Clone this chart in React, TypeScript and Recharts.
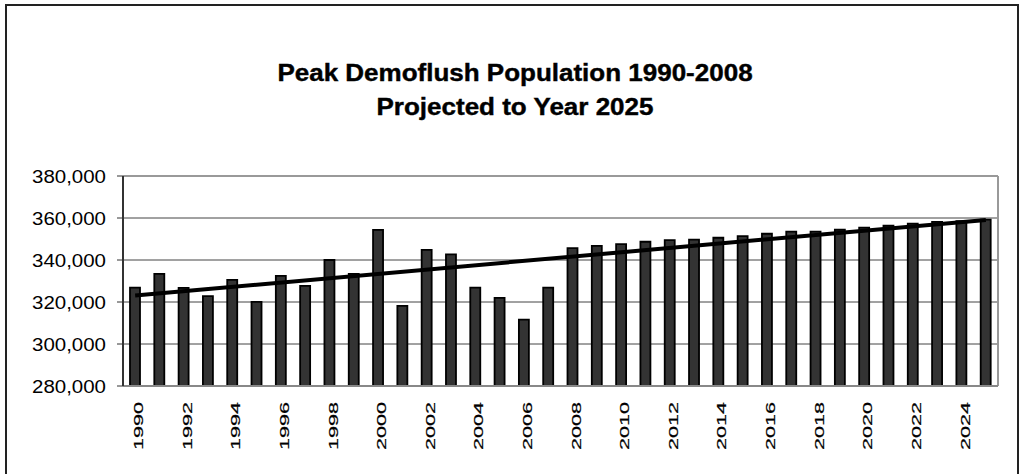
import React from "react";
import {
  ComposedChart,
  Bar,
  Line,
  XAxis,
  YAxis,
  CartesianGrid,
  ReferenceLine,
} from "recharts";

const years: string[] = [
  "1990", "1991", "1992", "1993", "1994", "1995", "1996", "1997", "1998", "1999",
  "2000", "2001", "2002", "2003", "2004", "2005", "2006", "2007", "2008", "2009",
  "2010", "2011", "2012", "2013", "2014", "2015", "2016", "2017", "2018", "2019",
  "2020", "2021", "2022", "2023", "2024", "2025",
];

const population: number[] = [
  326800, 333400, 326700, 322800, 330500, 320100, 332400, 327700, 340000, 333400,
  354300, 318200, 344800, 342700, 326800, 322000, 311600, 326800, 345700, 346700,
  347600, 348700, 349500, 349700, 350600, 351400, 352500, 353500, 353500, 354400,
  355400, 356300, 357300, 358200, 358500, 359200,
];

// linear trend line endpoints (1990 and 2025)
const trendStart = 323100;
const trendEnd = 359100;

const yTicks: number[] = [280000, 300000, 320000, 340000, 360000, 380000];

const titleLines: string[] = [
  "Peak Demoflush Population 1990-2008",
  "Projected to Year 2025",
];

const data = years.map((year, i) => ({
  year,
  population: population[i],
  trend: i === 0 ? trendStart : i === years.length - 1 ? trendEnd : null,
}));

const FONT = "'Liberation Sans', Arial, sans-serif";

const XTick = (props: any) => {
  const { x, y, payload } = props;
  return (
    <text
      transform={`translate(${x + 8},${y + 64}) rotate(-90)`}
      x={0}
      y={0}
      textAnchor="start"
      fontFamily={FONT}
      fontSize={12.5}
      fill="#000"
      stroke="#000"
      strokeWidth={0.2}
      textLength={48}
      lengthAdjust="spacingAndGlyphs"
    >
      {payload.value}
    </text>
  );
};

const YTick = (props: any) => {
  const { x, y, payload } = props;
  const label = Number(payload.value).toLocaleString("en-US");
  return (
    <text
      x={x}
      y={y}
      dy={6.5}
      textAnchor="end"
      fontFamily={FONT}
      fontSize={18}
      fill="#000"
      textLength={74}
      lengthAdjust="spacingAndGlyphs"
    >
      {label}
    </text>
  );
};

export default function App() {
  return (
    <div
      style={{
        position: "fixed",
        left: 0,
        top: 0,
        width: 1021,
        height: 474,
        overflow: "hidden",
        background: "#fff",
      }}
    >
      <div
        style={{
          position: "absolute",
          left: 5,
          top: 4,
          width: 1010,
          height: 500,
          border: "2px solid #222",
          borderBottom: "none",
        }}
      />
      <div
        style={{
          position: "absolute",
          left: 0,
          top: 56,
          width: 1030,
          textAlign: "center",
          fontFamily: FONT,
          fontWeight: "bold",
          fontSize: 23,
          lineHeight: "34px",
          color: "#000",
          WebkitTextStroke: "0.4px #000",
          transform: "scaleX(1.13)",
          transformOrigin: "515px 0",
        }}
      >
        {titleLines.map((t) => (
          <div key={t}>{t}</div>
        ))}
      </div>
      <div style={{ position: "absolute", left: 0, top: 0 }}>
        <ComposedChart
          width={1021}
          height={474}
          data={data}
          margin={{ top: 176, right: 23, bottom: 18, left: 0 }}
        >
          <CartesianGrid vertical={false} stroke="#444" strokeWidth={1} />
          <XAxis
            dataKey="year"
            interval={1}
            tick={<XTick />}
            tickLine={false}
            tickSize={0}
            tickMargin={0}
            height={70}
            axisLine={{ stroke: "#888", strokeWidth: 2 }}
          />
          <YAxis
            domain={[280000, 380000]}
            ticks={yTicks}
            tick={<YTick />}
            tickSize={6}
            tickMargin={11}
            width={123}
            tickLine={{ stroke: "#333" }}
            axisLine={{ stroke: "#333", strokeWidth: 2 }}
            allowDataOverflow
          />
          <ReferenceLine y={380000} stroke="#999" strokeWidth={2} />
          <ReferenceLine
            x={years[years.length - 1]}
            position="end"
            stroke="#999"
            strokeWidth={2}
          />
          <Bar
            dataKey="population"
            fill="#333333"
            stroke="#000"
            strokeWidth={1.8}
            barSize={10}
            isAnimationActive={false}
          />
          <Line
            dataKey="trend"
            type="linear"
            stroke="#000"
            strokeWidth={4}
            dot={false}
            connectNulls
            isAnimationActive={false}
          />
        </ComposedChart>
      </div>
    </div>
  );
}
